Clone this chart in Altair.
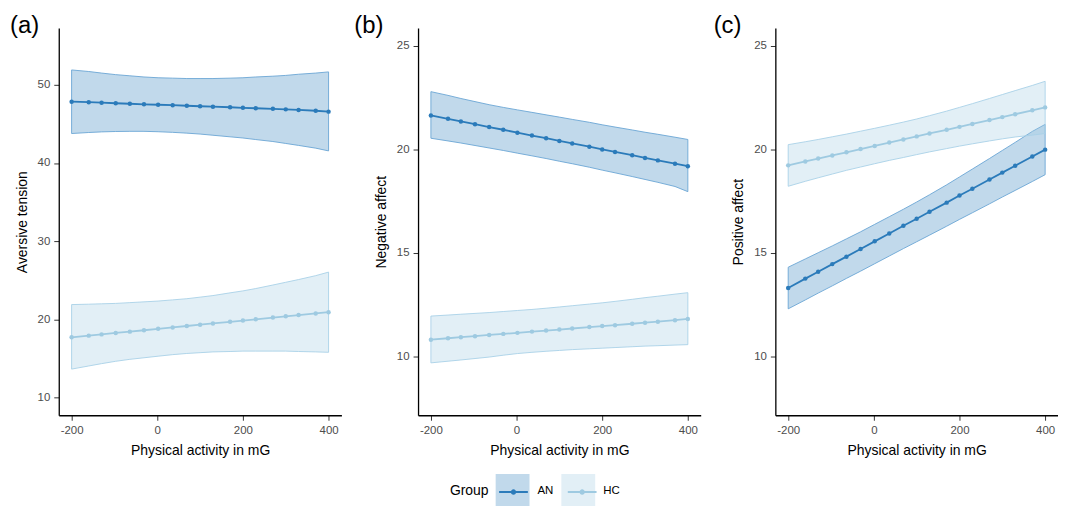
import altair as alt
import pandas as pd

FONT = "Liberation Sans"

groups = ["AN", "HC"]
x_vals = [-200, -160, -130, -97, -64, -31, 2, 36, 69, 100, 130, 170, 200, 230, 270, 300, 330, 370, 400]

# Panel (a) Aversive tension
a_an_fit = [47.84, 47.78, 47.71, 47.64, 47.58, 47.51, 47.45, 47.39, 47.32, 47.26, 47.20, 47.13, 47.06, 47.00, 46.93, 46.86, 46.79, 46.68, 46.57]
a_an_lo = [43.77, 43.9, 43.98, 44.03, 44.05, 44.05, 44.0, 43.92, 43.82, 43.7, 43.55, 43.35, 43.2, 43.0, 42.75, 42.5, 42.25, 41.9, 41.55]
a_an_hi = [51.9, 51.7, 51.5, 51.3, 51.15, 51.0, 50.9, 50.85, 50.8, 50.8, 50.8, 50.85, 50.9, 51.0, 51.1, 51.2, 51.35, 51.5, 51.65]
a_hc_fit = [17.72, 17.93, 18.09, 18.27, 18.44, 18.62, 18.80, 18.98, 19.16, 19.33, 19.49, 19.70, 19.86, 20.02, 20.24, 20.40, 20.56, 20.77, 20.93]
a_hc_lo = [13.65, 14.05, 14.35, 14.65, 14.9, 15.1, 15.3, 15.5, 15.65, 15.75, 15.85, 15.9, 15.95, 15.95, 15.95, 15.95, 15.9, 15.85, 15.8]
a_hc_hi = [21.9, 21.95, 22.0, 22.05, 22.15, 22.25, 22.35, 22.5, 22.65, 22.85, 23.05, 23.4, 23.65, 23.95, 24.4, 24.75, 25.1, 25.6, 26.05]

# Panel (b) Negative affect
b_an_fit = [21.63, 21.47, 21.34, 21.21, 21.07, 20.94, 20.80, 20.66, 20.53, 20.40, 20.28, 20.12, 19.99, 19.87, 19.71, 19.58, 19.46, 19.30, 19.18]
b_an_lo = [20.53, 20.4, 20.3, 20.18, 20.06, 19.94, 19.81, 19.68, 19.55, 19.42, 19.3, 19.13, 18.99, 18.86, 18.68, 18.54, 18.4, 18.2, 17.95]
b_an_hi = [22.78, 22.6, 22.45, 22.3, 22.15, 22.02, 21.9, 21.78, 21.66, 21.55, 21.44, 21.3, 21.18, 21.07, 20.93, 20.82, 20.72, 20.58, 20.47]
b_hc_fit = [10.80, 10.87, 10.92, 10.97, 11.03, 11.08, 11.13, 11.19, 11.24, 11.29, 11.34, 11.41, 11.46, 11.50, 11.57, 11.62, 11.67, 11.74, 11.80]
b_hc_lo = [9.68, 9.76, 9.82, 9.89, 9.96, 10.05, 10.13, 10.19, 10.24, 10.28, 10.32, 10.36, 10.39, 10.42, 10.46, 10.49, 10.51, 10.54, 10.56]
b_hc_hi = [11.94, 11.99, 12.03, 12.07, 12.11, 12.16, 12.21, 12.26, 12.32, 12.38, 12.44, 12.52, 12.58, 12.65, 12.75, 12.83, 12.9, 13.0, 13.07]

# Panel (c) Positive affect
c_an_fit = [13.30, 13.75, 14.08, 14.45, 14.81, 15.18, 15.55, 15.93, 16.30, 16.64, 16.98, 17.42, 17.76, 18.09, 18.54, 18.87, 19.20, 19.65, 19.98]
c_an_lo = [12.29, 12.72, 13.05, 13.4, 13.76, 14.11, 14.47, 14.84, 15.2, 15.53, 15.85, 16.28, 16.61, 16.93, 17.36, 17.69, 18.01, 18.44, 18.77]
c_an_hi = [14.3, 14.7, 15.0, 15.33, 15.67, 16.01, 16.37, 16.74, 17.1, 17.45, 17.8, 18.28, 18.66, 19.04, 19.55, 19.94, 20.33, 20.86, 21.2]
c_hc_fit = [19.22, 19.41, 19.55, 19.70, 19.85, 20.01, 20.16, 20.32, 20.47, 20.62, 20.76, 20.94, 21.08, 21.22, 21.41, 21.55, 21.69, 21.88, 22.02]
c_hc_lo = [18.21, 18.45, 18.62, 18.8, 18.98, 19.14, 19.3, 19.46, 19.6, 19.74, 19.87, 20.03, 20.15, 20.26, 20.4, 20.5, 20.59, 20.68, 20.76]
c_hc_hi = [20.22, 20.36, 20.47, 20.6, 20.73, 20.87, 21.01, 21.16, 21.31, 21.46, 21.62, 21.84, 22.02, 22.2, 22.45, 22.64, 22.83, 23.08, 23.28]

fill_colors = ["#3182bd", "#9ecae1"]
outline_colors = ["#6aa6d4", "#a9d1e7"]
line_colors = ["#2b7bba", "#9ecae1"]


def make_df(an_fit, an_lo, an_hi, hc_fit, hc_lo, hc_hi):
    rows = []
    for g, fit, lo, hi in [("AN", an_fit, an_lo, an_hi), ("HC", hc_fit, hc_lo, hc_hi)]:
        for xv, f, l, h in zip(x_vals, fit, lo, hi):
            rows.append({"x": xv, "fit": f, "lower": l, "upper": h, "group": g, "group2": g})
    return pd.DataFrame(rows)


LEG_X = 393
LEG_Y = 448
TITLE_W = 38.9   # width of "Group" at 14px
LABEL_W = 16.0   # width of "AN" at 11.5px
leg_fill = alt.Legend(
    orient="none", legendX=LEG_X, legendY=LEG_Y, direction="horizontal",
    title="Group", titleOrient="left", titleFont=FONT, titleFontSize=14,
    titleFontWeight="normal", titleColor="black", titlePadding=7,
    labelFont=FONT, labelFontSize=11.5, labelColor="black", labelOffset=8,
    columnPadding=8, symbolSize=1156,
    symbolType="square", symbolOpacity=0.3, symbolStrokeWidth=0,
)
leg_line = alt.Legend(
    orient="none", legendX=LEG_X + TITLE_W + 7, legendY=LEG_Y, direction="horizontal",
    title=None, labelExpr="''", labelFontSize=11.5, labelOffset=8,
    columnPadding=8 + LABEL_W, symbolSize=1156,
    symbolType="M-0.85,0H0.85M-0.1,0A0.1,0.1 0 1,0 0.1,0A0.1,0.1 0 1,0 -0.1,0",
    symbolStrokeWidth=2,
)


def panel(df, letter, ytitle, yticks, ydom, label_dx):
    xenc = alt.X("x:Q", scale=alt.Scale(domain=[-230, 430], nice=False, zero=False),
                 axis=alt.Axis(values=[-200, 0, 200, 400], title="Physical activity in mG",
                               labelExpr="'' + datum.value"))
    yaxis = alt.Axis(values=yticks, title=ytitle)
    yscale = alt.Scale(domain=ydom, nice=False, zero=False)
    base = alt.Chart(df)
    band = base.mark_area(fillOpacity=0.3, strokeWidth=0.9).encode(
        x=xenc,
        y=alt.Y("lower:Q", scale=yscale, axis=yaxis),
        y2="upper:Q",
        fill=alt.Fill("group:N", scale=alt.Scale(range=fill_colors), legend=leg_fill),
        stroke=alt.Stroke("group:N", scale=alt.Scale(range=outline_colors), legend=None),
    )
    line = base.mark_line(strokeWidth=1.8, point=alt.OverlayMarkDef(filled=True, size=20)).encode(
        x=xenc,
        y=alt.Y("fit:Q", scale=yscale, axis=yaxis),
        color=alt.Color("group2:N", scale=alt.Scale(range=line_colors), legend=leg_line),
    )
    lab = alt.Chart(pd.DataFrame({"t": [letter]})).mark_text(
        align="left", baseline="top", fontSize=24, font=FONT, color="black"
    ).encode(text="t:N", x=alt.value(label_dx), y=alt.value(-14))
    return alt.layer(band, line, lab).properties(width=284, height=389)


pa = panel(make_df(a_an_fit, a_an_lo, a_an_hi, a_hc_fit, a_hc_lo, a_hc_hi),
           "(a)", "Aversive tension", [10, 20, 30, 40, 50], [7.75, 57.25], -49)
pb = panel(make_df(b_an_fit, b_an_lo, b_an_hi, b_hc_fit, b_hc_lo, b_hc_hi),
           "(b)", "Negative affect", [10, 15, 20, 25], [7.15, 25.85], -64)
pc = panel(make_df(c_an_fit, c_an_lo, c_an_hi, c_hc_fit, c_hc_lo, c_hc_hi),
           "(c)", "Positive affect", [10, 15, 20, 25], [7.15, 25.85], -62)

chart = alt.hconcat(pa, pb, pc, spacing=13).resolve_scale(
    x="independent", y="independent", fill="shared", stroke="shared", color="shared"
).properties(
    padding={"left": 2, "top": 5, "right": 0, "bottom": 0}
).configure_view(stroke=None).configure_axis(
    grid=False, domainColor="black", domainWidth=1.3, tickColor="#333333", tickSize=5,
    tickWidth=1, labelFont=FONT, labelFontSize=11.5, labelColor="#4d4d4d", labelPadding=4,
    titleFont=FONT, titleFontSize=14, titleFontWeight="normal", titleColor="black", titlePadding=8,
)

chart.save("out.html", embed_options={"renderer": "svg", "actions": False})
